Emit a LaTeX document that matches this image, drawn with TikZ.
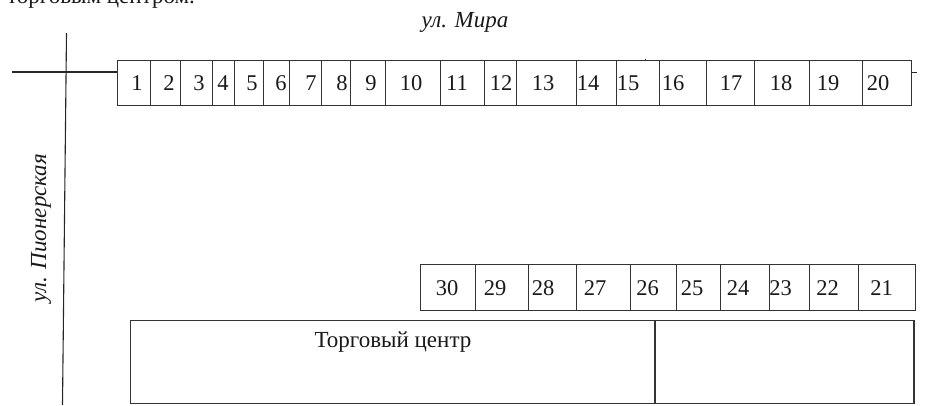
\documentclass[tikz,border=0pt]{standalone}
\usepackage{fontspec}
\setmainfont{Liberation Serif}
\tikzset{
  road/.style={draw=black!85,line width=1.1pt},
  cell/.style={draw=black!80,line width=1pt,inner sep=0pt,outer sep=0pt},
  num/.style={inner sep=0pt,font=\fontsize{22.5}{26}\selectfont,text=black!90},
  lbl/.style={inner sep=0pt,font=\fontsize{23}{27}\selectfont,text=black!90},
  street/.style={inner sep=0pt,font=\fontsize{23}{27}\selectfont\itshape,text=black!90}
}
\begin{document}
\begin{tikzpicture}[x=1pt,y=-1pt]
\useasboundingbox (0,0) rectangle (928,405);
\clip (0,0) rectangle (928,405);
\node[lbl,anchor=base west] (topline) at (7,3) {торговым центром.};
\node[street] (mira) at (465,22) {ул. Мира};
\node[street,rotate=90] (pion) at (41,228) {ул. Пионерская};
% streets
\coordinate (vtop) at (66.5,33);
\coordinate (vbot) at (62.5,405);
\coordinate (hleft) at (12,72);
\coordinate (hright) at (117.5,72);
\coordinate (tickA) at (912,72);
\coordinate (tickB) at (917,72);
\coordinate (tickC) at (645.5,59);
\coordinate (tickD) at (645.5,61);
\draw[road] (vtop) -- (vbot);
\draw[road] (hleft) -- (hright);
\draw[road,line width=0.7pt] (tickA) -- (tickB);
\draw[road,line width=0.7pt] (tickC) -- (tickD);
% upper row
\foreach \l/\r/\t/\n in {
 117.5/150.5/137/1,150.5/180.5/169/2,180.5/212/199/3,212/234/223/4,234/263/252/5,
 263/289/281/6,289/321/311/7,321/350/342/8,350/385/371/9,385/440/411/10,
 440/484.5/457/11,484.5/516.5/501/12,516.5/576.5/543/13,576.5/616.5/588/14,616.5/659.5/628/15,
 659.5/706.5/673/16,706.5/754.5/731/17,754.5/809.5/781/18,809.5/862.5/828/19,862.5/911.5/878/20}
{
  \node[cell,minimum width={(\r-\l)*1pt},minimum height=44.5pt] (c\n) at ({(\r+\l)/2},82.75) {};
  \node[num] (t\n) at (\t,83) {\n};
}
% lower row
\foreach \l/\r/\t/\n in {
 420/475/447/30,475/528/495/29,528/576/543/28,576/630/595/27,630/676/647.5/26,
 676/720/692/25,720/769/738/24,769/809/780.5/23,809/858/827.6/22,858/915/881.5/21}
{
  \node[cell,minimum width={(\r-\l)*1pt},minimum height=46pt] (c\n) at ({(\r+\l)/2},287.5) {};
  \node[num] (t\n) at (\t,288) {\n};
}
% shopping centre
\node[cell,minimum width=525pt,minimum height=83.5pt] (mall) at (392.5,362) {};
\node[cell,minimum width=259pt,minimum height=83pt,line width=1.2pt] (annex) at (784.5,362) {};
\node[lbl] (malltext) at (393,342) {Торговый центр};
\end{tikzpicture}
\end{document}
